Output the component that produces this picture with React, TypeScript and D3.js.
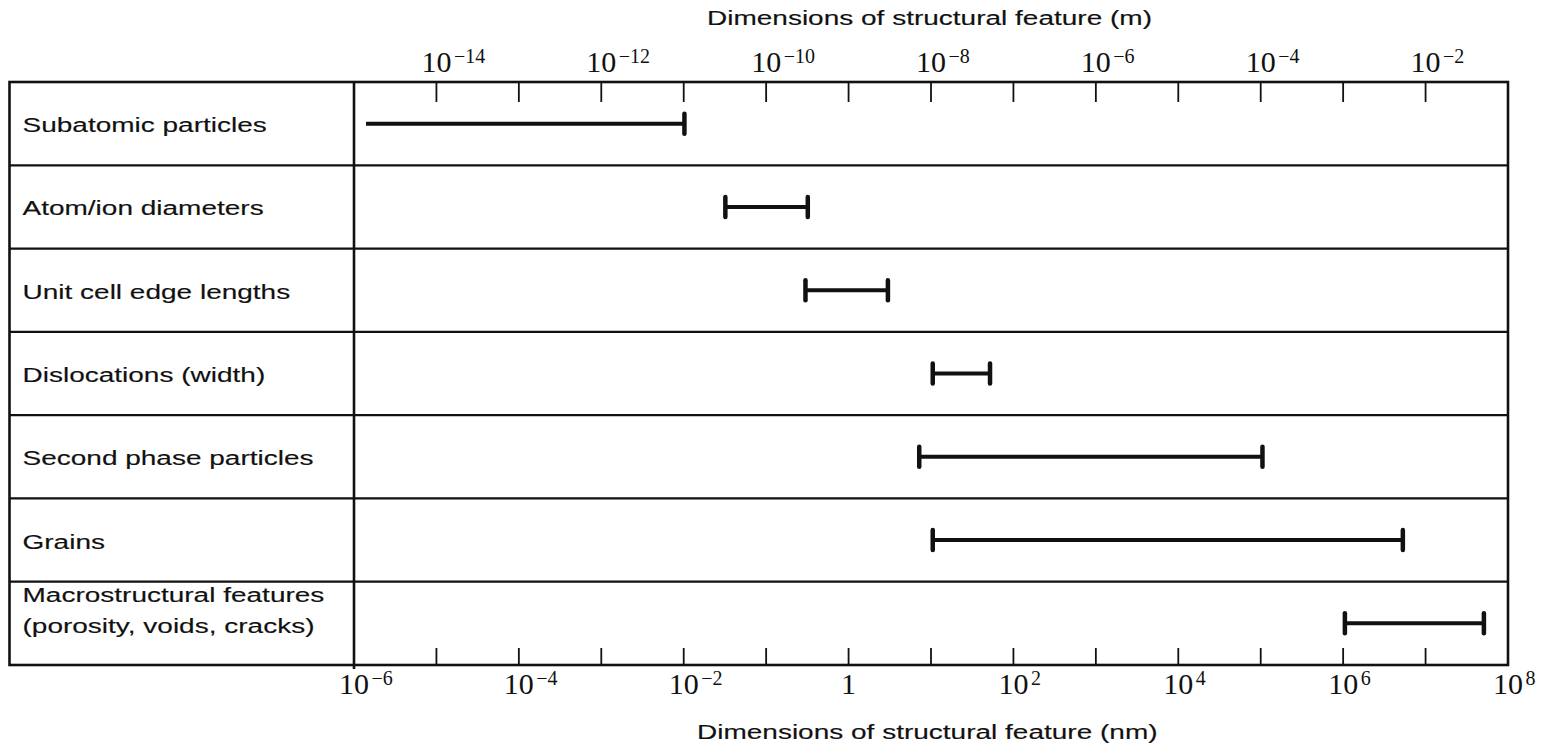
import React from "react";
import * as d3 from "d3";

// ---- data ----
const categoryLines: string[][] = [
  ["Subatomic particles"],
  ["Atom/ion diameters"],
  ["Unit cell edge lengths"],
  ["Dislocations (width)"],
  ["Second phase particles"],
  ["Grains"],
  ["Macrostructural features", "(porosity, voids, cracks)"],
];
// ranges in nm
const rangeMin = [1.4e-6, 0.032, 0.3, 10.5, 7.2, 10.5, 1.05e6];
const rangeMax = [0.0102, 0.32, 3.0, 52, 1.05e5, 5.3e6, 5.1e7];
const leftCapped = [false, true, true, true, true, true, true];

const bottomLabelExps = [-6, -4, -2, 0, 2, 4, 6, 8]; // nm
const topLabelExps = [-14, -12, -10, -8, -6, -4, -2]; // m
const tickExpsNm = d3.range(-5, 8); // tick decades inside the box (nm)

const topTitle = "Dimensions of structural feature (m)";
const bottomTitle = "Dimensions of structural feature (nm)";

// ---- layout ----
const W = 1542;
const H = 745;
const boxLeft = 9.5;
const plotLeft = 354;
const plotRight = 1508;
const boxTop = 82;
const boxBottom = 665;
const SX = 1.4; // horizontal stretch of the scanned sans text
const sans = "'Liberation Sans', Arial, sans-serif";
const serif = "'Liberation Serif', 'Times New Roman', serif";
const ink = "#111";

const x = d3.scaleLog().domain([1e-6, 1e8]).range([plotLeft, plotRight]);
const xm = d3.scaleLog().domain([1e-15, 1e-1]).range([plotLeft, plotRight]);
const y = d3
  .scaleBand<number>()
  .domain(d3.range(categoryLines.length))
  .range([boxTop, boxBottom])
  .padding(0);

function SText({ tx, ty, anchor = "start", size = 20, children }: any) {
  return (
    <text
      transform={`translate(${tx},${ty}) scale(${SX},1)`}
      textAnchor={anchor}
      fontFamily={sans}
      fontSize={size}
      fill={ink}
      stroke={ink}
      strokeWidth={0.15}
    >
      {children}
    </text>
  );
}

function Pow({ tx, ty, exp }: { tx: number; ty: number; exp: number }) {
  if (exp === 0) {
    return (
      <text x={tx} y={ty} textAnchor="middle" fontFamily={serif} fontSize={30} fill={ink}>
        1
      </text>
    );
  }
  const sup = exp < 0 ? `\u2212${Math.abs(exp)}` : `${exp}`;
  return (
    <g>
      <text x={tx} y={ty} textAnchor="middle" fontFamily={serif} fontSize={30} fill={ink}>
        10
      </text>
      <text x={tx + 17.5} y={ty - 9} textAnchor="start" fontFamily={serif} fontSize={20} fill={ink}>
        {sup}
      </text>
    </g>
  );
}

export default function App() {
  const bw = y.bandwidth();
  return (
    <svg
      width={W}
      height={H}
      style={{ position: "absolute", left: 0, top: 0, background: "#fff" }}
    >
      <rect x={0} y={0} width={W} height={H} fill="#fff" />

      {/* titles */}
      <SText tx={707} ty={25}>{topTitle}</SText>
      <SText tx={697} ty={739}>{bottomTitle}</SText>

      {/* row separators */}
      {d3.range(1, categoryLines.length).map((i) => (
        <line
          key={"sep" + i}
          x1={boxLeft}
          x2={plotRight}
          y1={y(i)!}
          y2={y(i)!}
          stroke={ink}
          strokeWidth={2.2}
        />
      ))}

      {/* outer box and divider */}
      <rect
        x={boxLeft}
        y={boxTop}
        width={plotRight - boxLeft}
        height={boxBottom - boxTop}
        fill="none"
        stroke={ink}
        strokeWidth={2.6}
      />
      <line x1={plotLeft} x2={plotLeft} y1={boxTop} y2={boxBottom + 4} stroke={ink} strokeWidth={2.6} />

      {/* ticks */}
      {tickExpsNm.map((e) => (
        <g key={"t" + e}>
          <line x1={x(10 ** e)} x2={x(10 ** e)} y1={boxTop} y2={boxTop + 20} stroke={ink} strokeWidth={1.8} />
          <line x1={x(10 ** e)} x2={x(10 ** e)} y1={boxBottom} y2={boxBottom - 17} stroke={ink} strokeWidth={1.8} />
        </g>
      ))}

      {/* top labels (m) */}
      {topLabelExps.map((e) => (
        <Pow key={"tl" + e} tx={xm(10 ** e)} ty={72} exp={e} />
      ))}
      {/* bottom labels (nm) */}
      {bottomLabelExps.map((e) => (
        <Pow key={"bl" + e} tx={x(10 ** e)} ty={694} exp={e} />
      ))}

      {/* row labels */}
      {categoryLines.map((lines, i) => {
        const cy = y(i)! + bw / 2;
        if (lines.length === 1) {
          return (
            <SText key={"lab" + i} tx={22.5} ty={cy + 8.5}>
              {lines[0]}
            </SText>
          );
        }
        return (
          <g key={"lab" + i}>
            <SText tx={22.5} ty={cy - 21}>{lines[0]}</SText>
            <SText tx={22.5} ty={cy + 10}>{lines[1]}</SText>
          </g>
        );
      })}

      {/* range bars */}
      {categoryLines.map((_, i) => {
        const cy = y(i)! + bw / 2;
        const x0 = x(rangeMin[i]);
        const x1 = x(rangeMax[i]);
        return (
          <g key={"bar" + i}>
            <line x1={x0} x2={x1} y1={cy} y2={cy} stroke={ink} strokeWidth={4} />
            {leftCapped[i] && (
              <line x1={x0} x2={x0} y1={cy - 10} y2={cy + 10} stroke={ink} strokeWidth={4.5} strokeLinecap="round" />
            )}
            <line x1={x1} x2={x1} y1={cy - 10} y2={cy + 10} stroke={ink} strokeWidth={4.5} strokeLinecap="round" />
          </g>
        );
      })}
    </svg>
  );
}
